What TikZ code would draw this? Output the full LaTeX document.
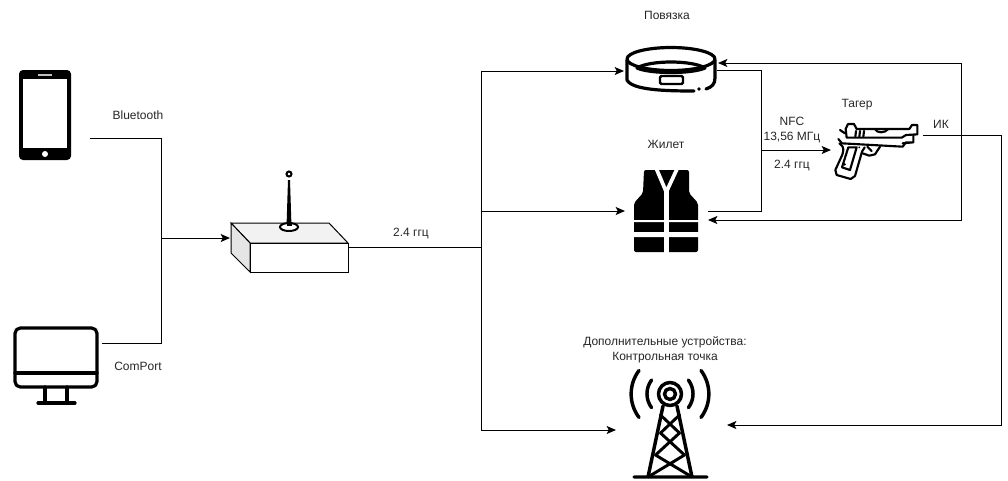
\documentclass[tikz,border=0pt]{standalone}
\usepackage{fontspec}
\setmainfont{Liberation Sans}
\usetikzlibrary{arrows.meta}

\begin{document}
\begin{tikzpicture}[x=0.75pt,y=-0.75pt,
    link/.style={line width=0.75pt,draw=black},
    feed/.style={link,-{Stealth[length=7pt,width=6pt,inset=1.5pt]}},
    lbl/.style={font=\fontsize{9}{11.2}\selectfont,text=black!85,inner sep=0pt,align=center},
    icon/.style={line width=2.4pt,line cap=round,line join=round}]
    \useasboundingbox (0,0) rectangle (1008,480);
    % phone
    \fill[rounded corners=3pt] (19,70) rectangle (71,160);
    \fill[white] (23,79) rectangle (67,148);
    \fill[white!75!black] (38,74) rectangle (52,76);
    \fill[white] (45,154) circle (3);
    % computer
    \draw[icon] [rounded corners=4pt] (15,328) rectangle (97,387);
    \draw[icon] (15,373) -- (97,373) (45,387) -- (45,403) (67,387) -- (67,403) (38,403) -- (75,403);
    % radio box
    \draw[link,fill=black!5] (231,223) -- (329,223) -- (348,243) -- (250,243) -- cycle;
    \draw[link,fill=black!10] (231,223) -- (250,243) -- (250,272) -- (231,253) -- cycle;
    \draw[link,fill=white] (250,243) rectangle (348,272);
    \fill (286.5,227) -- (288,180) -- (290,180) -- (291.5,227) -- cycle;
    \draw[line width=1.5pt,fill=white] (289,227) ellipse (9 and 4);
    \fill (286.5,226) rectangle (291.5,223);
    \draw[line width=1.5pt,fill=white] (289,174) circle (2.5);
    % band
    \draw[icon] (671,59) ellipse (44 and 11.5);
    \draw[icon] (637,68) .. controls (650,60) and (692,60) .. (705,68) .. controls (692,74) and (650,74) .. (637,68);
    \draw[icon] (627,60) -- (627,80) .. controls (632,90) and (665,91) .. (694,91);
    \draw[icon] (706,89) .. controls (712,87) and (715,84) .. (715,78) -- (715,60);
    \fill (699,89) circle (1.8);
    \draw[icon,line width=1.8pt,rounded corners=1pt] (660,76) rectangle (683,84);
    % vest
    \fill[rounded corners=1.5pt] (644,170) -- (689,170) -- (689,193) -- (698,203) -- (698,252) -- (634,252) -- (634,203) -- (643,193) -- cycle;
    \draw[white,line width=2.8pt] (656.5,169) -- (666.3,192) -- (677,169);
    \fill[white] (664,191) rectangle (668.5,253);
    \fill[white] (633,220) rectangle (699,222) (633,232) rectangle (699,237);
    % mast
    \draw[icon,line width=2.6pt] (670,394) circle (5.5) (670,394) circle (11.5);
    \draw[icon,line width=2.6pt] (639,370.5) arc (217:143:39) (701,370.5) arc (-37:37:39);
    \draw[icon,line width=2.6pt] (651.6,380) arc (217:143:23) (688.4,380) arc (-37:37:23);
    \draw[icon,line width=2.6pt] (663,406) -- (648,477) (677,406) -- (692,477) (634,477) -- (707,477);
    \draw[icon,line width=2.2pt] (660.5,415) -- (679.5,433) -- (655.5,455) -- (692,477)
        (679.5,415) -- (660.5,433) -- (684.5,455) -- (648,477);
    % pistol
    \begin{scope}[shift={(830,115)},x=0.25pt,y=-0.25pt]
        \draw[icon,line width=1.6pt,fill=white] (47,42) -- (54,27) -- (72,27) -- (80,42) -- (238,42) -- (246,30) -- (262,30) -- (262,58) -- (228,60) -- (215,68) -- (50,68) -- cycle;
        \draw[icon,line width=1.6pt] (250,60) -- (250,82) -- (218,85) (25,72) -- (36,85) -- (218,95) -- (228,82) -- (250,82);
        \draw[icon,line width=1.6pt] (28,85) .. controls (45,95) and (42,110) .. (32,130) -- (16,165) -- (20,180) -- (62,192) -- (75,183) -- (96,110) -- (104,97);
        \draw[icon,line width=1.6pt] (55,97) -- (80,97) -- (60,165) -- (36,157) -- cycle;
        \draw[icon,line width=1.6pt] (98,115) -- (118,122) -- (135,118) -- (150,95) (112,95) -- (125,108);
        \draw[icon,line width=1.6pt] (78,48) -- (76,65) (90,48) -- (88,65) (102,48) -- (100,65) (135,42) .. controls (140,55) and (165,55) .. (175,42);
        \draw[icon,line width=1.6pt] (30,45) -- (45,55);
        \fill (44,148) circle (4) (88,97) circle (3);
    \end{scope}
    % ports
    \coordinate (phoneOut) at (90,138);
    \coordinate (pcOut) at (102,343);
    \coordinate (boxIn) at (230,238);
    \coordinate (boxOut) at (348,247);
    \coordinate (srcJoin) at (161,238);
    \coordinate (hub) at (481,247);
    \coordinate (bandIn) at (624,71);
    \coordinate (vestIn) at (625,211);
    \coordinate (mastIn) at (616,430);
    \coordinate (bandOut) at (717,70);
    \coordinate (vestOut) at (708,211);
    \coordinate (tagJoin) at (761,150);
    \coordinate (gunIn) at (831,150);
    \coordinate (gunOut) at (923,135);
    \coordinate (irBus) at (961,135);
    \coordinate (irEnd) at (1001,135);
    \coordinate (bandBack) at (718,63);
    \coordinate (vestBack) at (708,220);
    \coordinate (mastBack) at (727,425);
    % wires
    \draw[link] (phoneOut) -| (srcJoin);
    \draw[link] (pcOut) -| (srcJoin);
    \draw[feed] (srcJoin) -- (boxIn);
    \draw[link] (boxOut) -- (hub);
    \draw[feed] (hub) |- (bandIn);
    \draw[feed] (hub) |- (vestIn);
    \draw[feed] (hub) |- (mastIn);
    \draw[link] (bandOut) -| (tagJoin);
    \draw[link] (vestOut) -| (tagJoin);
    \draw[feed] (tagJoin) -- (gunIn);
    \draw[link] (gunOut) -- (irEnd);
    \draw[feed] (irBus) |- (bandBack);
    \draw[feed] (irBus) |- (vestBack);
    \draw[feed] (irEnd) |- (mastBack);
    % texts
    \node[lbl] (btText) at (138,115) {Bluetooth};
    \node[lbl] (comText) at (138,366) {ComPort};
    \node[lbl] (radioText) at (411,233) {2.4 ггц};
    \node[lbl] (bandText) at (667,15) {Повязка};
    \node[lbl] (vestText) at (666,144) {Жилет};
    \node[lbl] (nfcText) at (792,130) {NFC\\13,56 МГц};
    \node[lbl] (tagRadio) at (792,165) {2.4 ггц};
    \node[lbl] (gunText) at (857,105) {Тагер};
    \node[lbl] (irText) at (941,124) {ИК};
    \node[lbl] (mastText) at (665,350) {Дополнительные устройства:\\Контрольная точка};
\end{tikzpicture}
\end{document}
